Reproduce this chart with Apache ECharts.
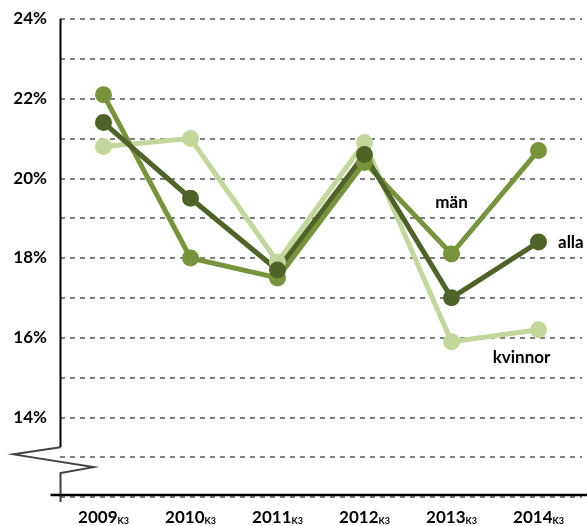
<!DOCTYPE html>
<html>
<head>
<meta charset="utf-8">
<script src="https://cdn.jsdelivr.net/npm/echarts@6/dist/echarts.min.js"></script>
<style>
  html, body { margin: 0; padding: 0; background: #fff; }
  #chart { width: 587px; height: 526px; }
</style>
</head>
<body>
<div id="chart"></div>
<script>
// data
var years = ['2009', '2010', '2011', '2012', '2013', '2014']
var man = [22.1, 18.0, 17.5, 20.4, 18.1, 20.7]
var alla = [21.4, 19.5, 17.7, 20.6, 17.0, 18.4]
var kvinnor = [20.8, 21.0, 17.9, 20.9, 15.9, 16.2]
var yTicks = [14, 16, 18, 20, 22, 24]

var font = 'Lato, "Open Sans", sans-serif'
var chart = echarts.init(document.getElementById('chart'))

function lineSeries(name, color, data) {
  return {
    name: name,
    type: 'line',
    data: data,
    symbol: 'circle',
    symbolSize: 17,
    lineStyle: { width: 5, color: color },
    itemStyle: { color: color },
    emphasis: { disabled: true },
    label: { fontFamily: font, fontWeight: 'bold', fontSize: 17, color: '#000' }
  }
}

var sMan = lineSeries('män', '#77933C', man.map(function (v, i) {
  if (i === 4) {
    return { value: v, label: { show: true, position: 'top', offset: [0, -30], formatter: 'män' } }
  }
  return v
}))
var sAlla = lineSeries('alla', '#4F6228', alla.map(function (v, i) {
  if (i === alla.length - 1) {
    return { value: v, label: { show: true, position: 'right', offset: [6, 0], formatter: 'alla' } }
  }
  return v
}))
var sKv = lineSeries('kvinnor', '#C3D69B', kvinnor.map(function (v, i) {
  if (i === kvinnor.length - 1) {
    return { value: v, label: { show: true, position: 'bottom', offset: [-17, 6], formatter: 'kvinnor' } }
  }
  return v
}))

chart.setOption({
  backgroundColor: '#fff',
  animation: false,
  grid: { left: 60, right: 5, top: 19, bottom: 27 },
  xAxis: {
    type: 'category',
    data: years,
    boundaryGap: true,
    axisLine: { show: false },
    axisTick: { show: false },
    axisLabel: {
      interval: 0,
      margin: 12,
      formatter: function (v) { return '{y|' + v + '}{k|K3}' },
      rich: {
        y: { fontFamily: font, fontWeight: 'bold', fontSize: 17, color: '#000' },
        k: { fontFamily: font, fontWeight: 'bold', fontSize: 9, color: '#000', padding: [8, 0, 0, 0] }
      }
    }
  },
  yAxis: {
    type: 'value',
    min: 12,
    max: 24,
    interval: 1,
    axisLine: { show: false },
    axisTick: { show: false },
    axisLabel: {
      margin: 13,
      fontFamily: font,
      fontWeight: 'bold',
      fontSize: 17,
      color: '#000',
      formatter: function (v) { return yTicks.indexOf(v) >= 0 ? v + '%' : '' }
    },
    splitLine: {
      show: true,
      lineStyle: { color: '#808080', width: 2, type: [5, 5] }
    }
  },
  series: [sKv, sMan, sAlla]
})

// axis lines and the break mark on the value axis
var px = function (y) { return chart.convertToPixel({ gridIndex: 0 }, [0, y]) }
var yTop = px(24)[1], yBrk = px(13.25)[1], yBase = px(12)[1]
var ax = px(24)[0] - 43
var w = chart.getWidth()
chart.setOption({
  graphic: [
    { type: 'line', shape: { x1: ax, y1: yTop, x2: ax, y2: yBrk }, style: { stroke: '#000', lineWidth: 2 } },
    {
      type: 'polyline',
      shape: { points: [[ax, yBrk], [ax - 47, px(13.07)[1]], [ax + 33, px(12.75)[1]], [ax, px(12.6)[1]], [ax, yBase + 5]] },
      style: { stroke: '#404040', lineWidth: 2, fill: null }
    },
    { type: 'line', shape: { x1: ax - 10, y1: yBase - 2, x2: w, y2: yBase - 2 }, style: { stroke: '#000', lineWidth: 2.5 } }
  ]
})
</script>
</body>
</html>
